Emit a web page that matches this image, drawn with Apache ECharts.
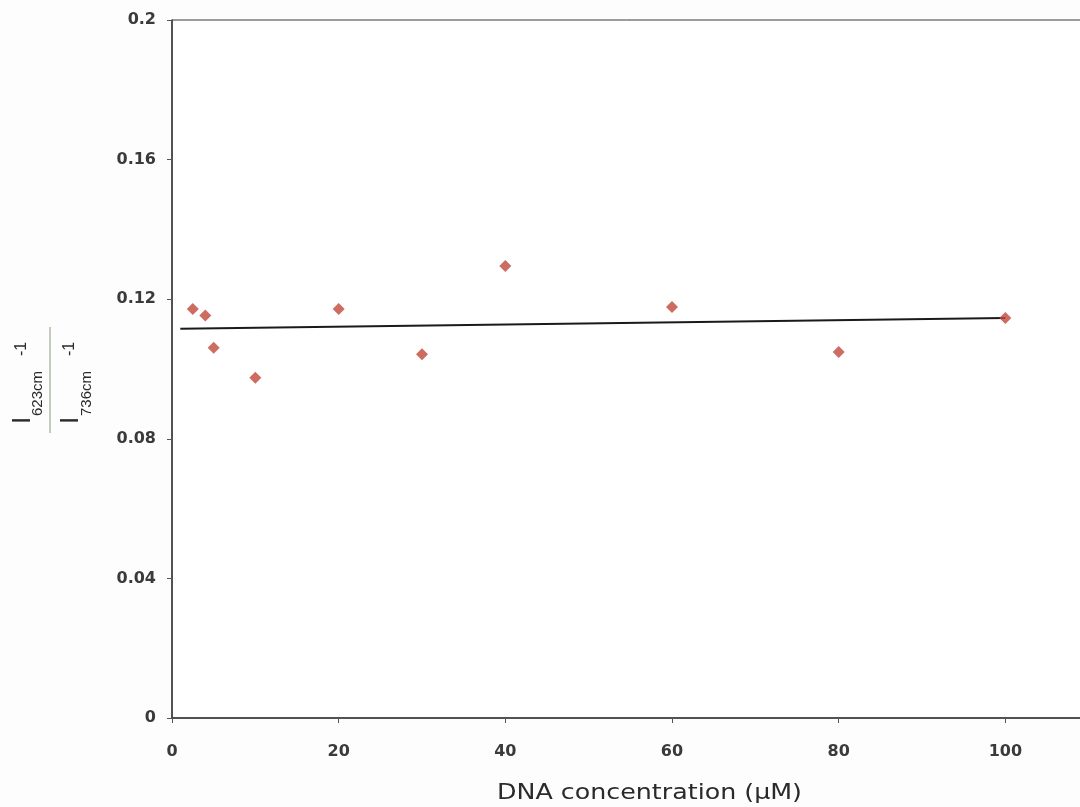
<!DOCTYPE html>
<html>
<head>
<meta charset="utf-8">
<script src="https://cdn.jsdelivr.net/npm/echarts@6/dist/echarts.min.js"></script>
<style>
html,body{margin:0;padding:0;background:#fdfdfd;}
#chart{width:1080px;height:807px;}
</style>
</head>
<body>
<div id="chart"></div>
<script>
// Data
const concentrations = [2.5, 4, 5, 10, 20, 30, 40, 60, 80, 100];
const intensityRatio = [0.1172, 0.1153, 0.1061, 0.0975, 0.1172, 0.1042, 0.1295, 0.1178, 0.1049, 0.1146];
const trendX = [1, 100];
const trendY = [0.1115, 0.1146];
const xTicks = [0, 20, 40, 60, 80, 100, 120];
const yTicks = [0, 0.04, 0.08, 0.12, 0.16, 0.2];
const xTitle = 'DNA concentration (µM)';
const yTitleTop = ['I', '623cm', '-1'];
const yTitleBottom = ['I', '736cm', '-1'];

const chart = echarts.init(document.getElementById('chart'), null, {renderer: 'canvas'});
const FONT = 'Liberation Sans, Arial, sans-serif';
const TICKFONT = 'DejaVu Sans, sans-serif';

function titlePiece(text, lx, baselineLy, size) {
  return {
    type: 'text',
    x: lx,
    y: baselineLy - 0.35 * size,
    style: {text: text, font: size + 'px ' + FONT, fill: '#2a2a2a', textAlign: 'left', textVerticalAlign: 'middle'}
  };
}

// horizontal stretch for the x title to match the reference width
const measureCtx = document.createElement('canvas').getContext('2d');
measureCtx.font = '22px ' + TICKFONT;
const xTitleScale = 305 / measureCtx.measureText(xTitle).width;

const option = {
  backgroundColor: '#fdfdfd',
  animation: false,
  grid: {left: 172, top: 20, width: 1000, bottom: 89, show: true, borderColor: '#3a3a3a', borderWidth: 1,
         backgroundColor: '#ffffff', outerBoundsMode: 'none', containLabel: false},
  xAxis: {
    type: 'value', min: xTicks[0], max: xTicks[xTicks.length - 1], interval: 20,
    axisLine: {show: true, lineStyle: {color: '#3a3a3a', width: 1.5}},
    axisTick: {show: true, length: 5, lineStyle: {color: '#555'}},
    axisLabel: {margin: 26, fontSize: 16, fontWeight: 'bold', color: '#3a3a3a', fontFamily: TICKFONT},
    splitLine: {show: false}
  },
  yAxis: {
    type: 'value', min: yTicks[0], max: yTicks[yTicks.length - 1], interval: 0.04,
    axisLine: {show: true, lineStyle: {color: '#3a3a3a', width: 1.5}},
    axisTick: {show: true, length: 5, lineStyle: {color: '#555'}},
    axisLabel: {margin: 16, fontSize: 16, fontWeight: 'bold', color: '#3a3a3a', fontFamily: TICKFONT},
    splitLine: {show: false}
  },
  series: [
    {
      type: 'line',
      data: trendX.map((x, i) => [x, trendY[i]]),
      showSymbol: false,
      symbol: 'none',
      lineStyle: {color: '#1a1a1a', width: 2},
      z: 2
    },
    {
      type: 'scatter',
      data: concentrations.map((x, i) => [x, intensityRatio[i]]),
      symbol: 'diamond',
      symbolSize: [12, 12],
      itemStyle: {color: '#c0473a'},
      z: 3
    }
  ],
  graphic: [
    {
      type: 'text',
      x: 497, y: 793,
      scaleX: xTitleScale,
      style: {text: xTitle, font: '22px ' + TICKFONT, fill: '#2a2a2a', textAlign: 'left', textVerticalAlign: 'middle'}
    },
    {
      type: 'line',
      shape: {x1: 50, y1: 327, x2: 50, y2: 433},
      style: {stroke: '#8a9a80', lineWidth: 1}
    },
    {
      type: 'group',
      x: 0, y: 807,
      rotation: Math.PI / 2,
      children: [
        titlePiece(yTitleTop[0], 383, 32, 26),
        titlePiece(yTitleTop[1], 391, 43, 15),
        titlePiece(yTitleTop[2], 451, 27, 16),
        titlePiece(yTitleBottom[0], 383, 80, 26),
        titlePiece(yTitleBottom[1], 391, 92, 15),
        titlePiece(yTitleBottom[2], 451, 75, 16)
      ]
    }
  ]
};
chart.setOption(option);
</script>
</body>
</html>
